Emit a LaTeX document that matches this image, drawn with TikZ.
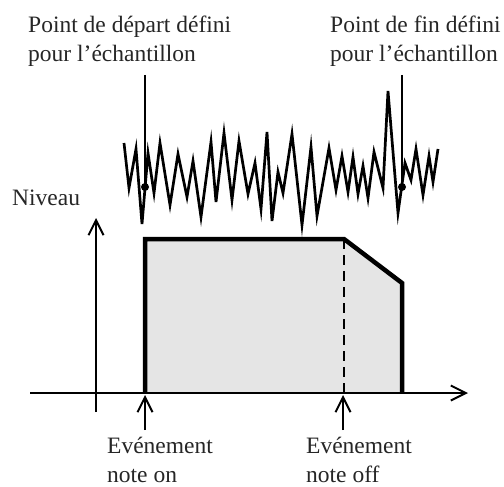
\documentclass[tikz,border=0pt]{standalone}
\usepackage{fontspec}
\setmainfont{Liberation Serif}
\usetikzlibrary{arrows.meta, positioning}

\begin{document}
\begin{tikzpicture}[
    x=1pt, y=-1pt,
    txt/.style={inner sep=0pt, align=left, text=black!85, font=\fontsize{23.5}{29}\selectfont},
    axis/.style={line width=2pt, -{Straight Barb[length=15pt, width=15pt]}},
    evarrow/.style={line width=2pt, -{Straight Barb[length=15pt, width=15pt]}},
    envelope/.style={line width=4.5pt, fill=gray!20, line join=miter},
    wave/.style={line width=2.7pt, line join=miter},
    marker/.style={line width=2pt},
    dot/.style={circle, fill=black, inner sep=0pt, minimum size=8pt}
]
    \useasboundingbox (0,0) rectangle (504,487);

    % Envelope
    \draw[envelope] (145,393) -- (145,239) -- (344,239) -- (402,283) -- (402,393);
    \draw[line width=2pt, dash pattern=on 10pt off 6pt] (344,239) -- (344,393);

    % Axes
    \coordinate (origin) at (96,393);
    \draw[axis] (30,393) -- (468,393);
    \draw[axis] (96,412) -- (96,218);
    \node[txt, anchor=base west] (level) at (12,205) {Niveau};

    % Sample waveform
    \draw[wave] (124,143) -- (129,188) -- (136,149) -- (142,224) -- (148,153)
        -- (154,193) -- (160,143) -- (170,205) -- (178,154) -- (187,197)
        -- (193,161) -- (201,217) -- (211,142) -- (216,202) -- (224,133)
        -- (232,200) -- (239,141) -- (248,194) -- (255,163) -- (261,209)
        -- (267,132) -- (272,221) -- (278,172) -- (283,193) -- (292,134)
        -- (302,225) -- (311,147) -- (317,216) -- (329,148) -- (336,190)
        -- (342,156) -- (348,192) -- (353,157) -- (358,194) -- (363,166)
        -- (368,198) -- (374,152) -- (383,188) -- (388,91) -- (398,213)
        -- (405,163) -- (411,180) -- (416,149) -- (423,195) -- (429,156)
        -- (433,182) -- (438,149);

    % Start and end points
    \node[dot] (startdot) at (145,187) {};
    \node[dot] (enddot) at (402,187) {};
    \coordinate (starttop) at (145,75);
    \coordinate (endtop) at (402,75);
    \draw[marker] (starttop) -- (startdot.center);
    \draw[marker] (endtop) -- (enddot.center);
    \node[txt, anchor=base west] (startlbl) at (28,62) {Point de départ défini\\pour l’échantillon};
    \node[txt, anchor=base west] (endlbl) at (330,62) {Point de fin défini\\pour l’échantillon};

    % Note events
    \coordinate (ontail) at (145,430);
    \coordinate (onhead) at (145,395);
    \coordinate (offtail) at (343,430);
    \coordinate (offhead) at (343,395);
    \draw[evarrow] (ontail) -- (onhead);
    \draw[evarrow] (offtail) -- (offhead);
    \node[txt, anchor=base west] (onlbl) at (107,482) {Evénement\\note on};
    \node[txt, anchor=base west] (offlbl) at (306,482) {Evénement\\note off};

\end{tikzpicture}
\end{document}
